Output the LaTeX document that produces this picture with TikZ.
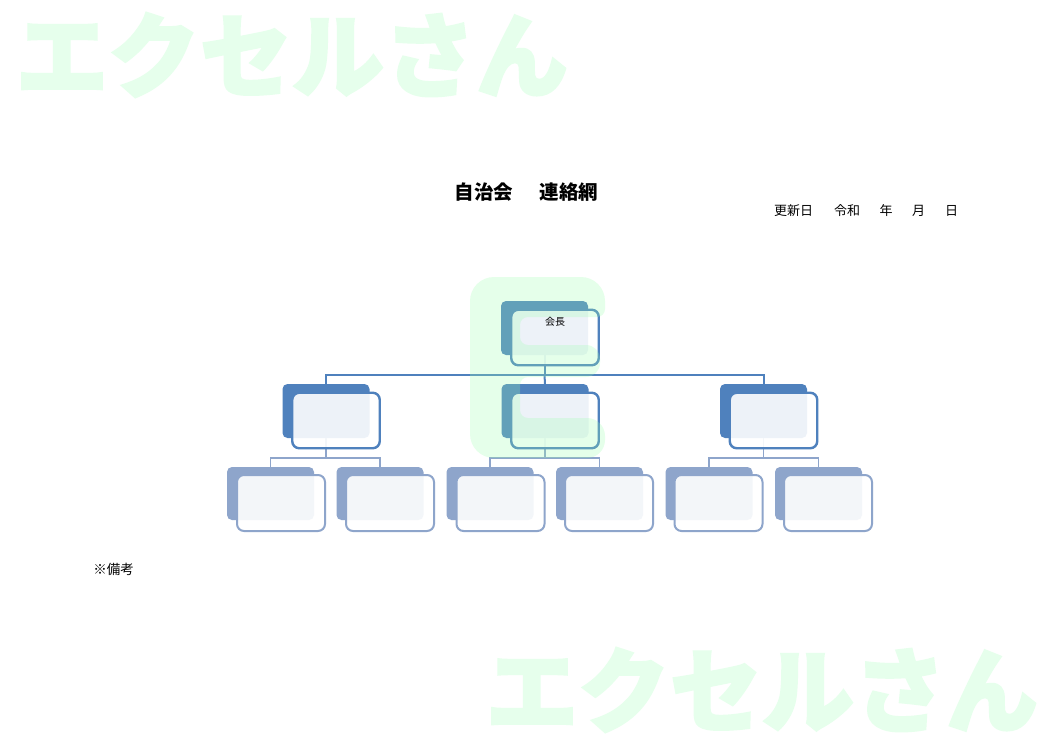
\documentclass[tikz,border=0pt]{standalone}
\usepackage{fontspec}
\newfontfamily\jp{Noto Sans CJK JP}
\newfontfamily\wmf{Noto Sans CJK JP}[BoldFeatures={FakeBold=2.5}]
\definecolor{cA}{RGB}{79,129,189}
\definecolor{cB}{RGB}{142,165,203}
\definecolor{wm}{RGB}{230,255,236}
\definecolor{eg}{RGB}{155,255,175}
\begin{document}
\begin{tikzpicture}[x=1pt,y=-1pt,
  backA/.style={rectangle,rounded corners=5pt,fill=cA,minimum width=87pt,minimum height=54pt,inner sep=0pt,outer sep=0pt},
  frontA/.style={rectangle,rounded corners=7pt,draw=cA,line width=2.4pt,fill=white,fill opacity=0.9,text opacity=1,minimum width=87.5pt,minimum height=55.5pt,inner sep=0pt,outer sep=0pt},
  backB/.style={rectangle,rounded corners=5pt,fill=cB,minimum width=87pt,minimum height=53pt,inner sep=0pt,outer sep=0pt},
  frontB/.style={rectangle,rounded corners=7pt,draw=cB,line width=2pt,fill=white,fill opacity=0.9,text opacity=1,minimum width=88pt,minimum height=56pt,inner sep=0pt,outer sep=0pt},
  connA/.style={draw=cA,line width=2pt},
  connB/.style={draw=cB,line width=1.8pt},
  wmtext/.style={text=wm,font=\wmf\bfseries\fontsize{92}{92}\selectfont,inner sep=0pt},
  jptext/.style={font=\jp\fontsize{13}{14}\selectfont,inner sep=0pt}
]
\useasboundingbox[fill=white] (0,0) rectangle (1052,744);

% watermarks
\node[wmtext] (wm1) at (292,55) {エクセルさん};
\node[wmtext] (wm2) at (762,690) {エクセルさん};

% texts
\node[font=\jp\bfseries\fontsize{19.5}{20}\selectfont,inner sep=0pt] (title) at (526.5,192) {自治会\hspace{27pt}連絡網};
\node[jptext] (d1) at (793.5,211) {更新日};
\node[jptext] (d2) at (847,211) {令和};
\node[jptext] (d3) at (886,211) {年};
\node[jptext] (d4) at (918.5,211) {月};
\node[jptext] (d5) at (951.5,211) {日};
\node[font=\jp\fontsize{13.5}{14}\selectfont,inner sep=0pt] (note) at (113.5,569) {※備考};

% connector junctions
\coordinate (j1) at (544.5,375);
\coordinate (j2a) at (326,458);
\coordinate (j2b) at (545,458);
\coordinate (j2c) at (763.5,458);

% box backs
\node[backA] (topB) at (544.5,328) {};
\node[backA] (L2aB) at (326,411) {};
\node[backA] (L2bB) at (545,411) {};
\node[backA] (L2cB) at (763.5,411) {};
\node[backB] (L3aB) at (270.5,493.5) {};
\node[backB] (L3bB) at (380,493.5) {};
\node[backB] (L3cB) at (490,493.5) {};
\node[backB] (L3dB) at (599.5,493.5) {};
\node[backB] (L3eB) at (709,493.5) {};
\node[backB] (L3fB) at (818.5,493.5) {};

% connectors
\draw[connA] (topB.south) -- (j1);
\draw[connA] (L2aB.north) |- (j1) -| (L2cB.north);
\draw[connA] (j1) -- (L2bB.north);
\draw[connB] (L2aB.south) -- (j2a);
\draw[connB] (L3aB.north) |- (j2a) -| (L3bB.north);
\draw[connB] (L2bB.south) -- (j2b);
\draw[connB] (L3cB.north) |- (j2b) -| (L3dB.north);
\draw[connB] (L2cB.south) -- (j2c);
\draw[connB] (L3eB.north) |- (j2c) -| (L3fB.north);

% fronts
\node[frontA] (topF) at (555,337.5) {};
\node[frontA] (L2aF) at (336,420.5) {};
\node[frontA] (L2bF) at (555,420.5) {};
\node[frontA] (L2cF) at (773.5,420.5) {};
\node[frontB] (L3aF) at (281,503) {};
\node[frontB] (L3bF) at (390,503) {};
\node[frontB] (L3cF) at (500.5,503) {};
\node[frontB] (L3dF) at (609,503) {};
\node[frontB] (L3eF) at (718.5,503) {};
\node[frontB] (L3fF) at (828,503) {};

\node[font=\jp\fontsize{10}{11}\selectfont,inner sep=0pt] (chief) at (555,321.5) {会長};

% big E watermark overlay
\path[fill=eg,fill opacity=0.25]
  [rounded corners=24pt] (470,360) -- (470,277) -- (605,277)
  [rounded corners=8pt] -- (605,317) -- (520,317)
  -- (520,345) [rounded corners=14pt] -- (600,345) -- (600,377)
  [rounded corners=8pt] -- (520,377) -- (520,418)
  [rounded corners=18pt] -- (605,418) -- (605,458)
  [rounded corners=24pt] -- (470,458) -- cycle;
\end{tikzpicture}
\end{document}
